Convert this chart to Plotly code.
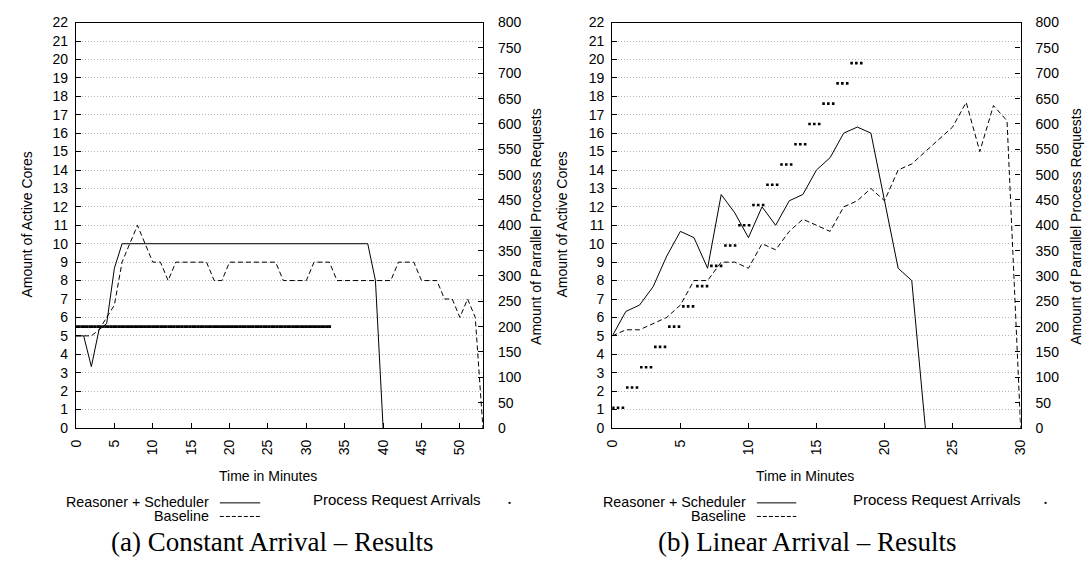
import plotly.graph_objects as go

W, H = 1092, 576

# ---------------- (a) Constant Arrival ----------------
a_time = list(range(0, 54))
a_sched_time = list(range(0, 41))
a_sched = [5, 5, 3.33, 5.33, 5.67, 8.67, 10, 10, 10, 10,
           10, 10, 10, 10, 10, 10, 10, 10, 10, 10,
           10, 10, 10, 10, 10, 10, 10, 10, 10, 10,
           10, 10, 10, 10, 10, 10, 10, 10, 10, 8, 0]
a_base = [5, 5, 5, 5.33, 6, 6.67, 9, 10, 11, 10,
          9, 9, 8, 9, 9, 9, 9, 9, 8, 8,
          9, 9, 9, 9, 9, 9, 9, 8, 8, 8,
          8, 9, 9, 9, 8, 8, 8, 8, 8, 8,
          8, 8, 9, 9, 9, 8, 8, 8, 7, 7,
          6, 7, 6, 0]
a_arr_t = [0.07, 0.42, 0.78, 1.10, 1.45, 1.81, 2.13, 2.48, 2.84, 3.16, 3.51, 3.87,
           4.19, 4.54, 4.90, 5.22, 5.57, 5.93, 6.25, 6.60, 6.96, 7.28, 7.63, 7.99,
           8.31, 8.66, 9.02, 9.34, 9.69, 10.05, 10.37, 10.72, 11.08, 11.40, 11.75, 12.11,
           12.43, 12.78, 13.14, 13.46, 13.81, 14.17, 14.49, 14.84, 15.20, 15.52, 15.87, 16.23,
           16.55, 16.90, 17.26, 17.58, 17.93, 18.29, 18.61, 18.96, 19.32, 19.64, 19.99, 20.35,
           20.67, 21.02, 21.38, 21.70, 22.05, 22.41, 22.73, 23.08, 23.44, 23.76, 24.11, 24.47,
           24.79, 25.14, 25.50, 25.82, 26.17, 26.53, 26.85, 27.20, 27.56, 27.88, 28.23, 28.59,
           28.91, 29.26, 29.62, 29.94, 30.29, 30.65, 30.97, 31.32, 31.68, 32.00, 32.35, 32.71,
           33.03]
a_arr_req = [200] * len(a_arr_t)

# ---------------- (b) Linear Arrival ----------------
b_sched_time = list(range(0, 24))
b_sched = [5, 6.33, 6.67, 7.67, 9.33, 10.67, 10.33, 8.67, 12.67, 11.67,
           10.33, 12, 11, 12.33, 12.67, 14, 14.67, 16, 16.33, 16,
           12.33, 8.67, 8, 0]
b_base_time = list(range(0, 31))
b_base = [5, 5.33, 5.33, 5.67, 6, 6.67, 8, 8, 9, 9,
          8.67, 10, 9.67, 10.67, 11.33, 11, 10.67, 12, 12.33, 13,
          12.33, 14, 14.33, 15, 15.67, 16.33, 17.67, 15, 17.5, 16.67,
          0]
b_arr_t = [0.07, 0.42, 0.78, 1.10, 1.45, 1.81, 2.13, 2.48, 2.84, 3.16, 3.51, 3.87,
           4.19, 4.54, 4.90, 5.22, 5.57, 5.93, 6.25, 6.60, 6.96, 7.28, 7.63, 7.99,
           8.31, 8.66, 9.02, 9.34, 9.69, 10.05, 10.37, 10.72, 11.08, 11.40, 11.75, 12.11,
           12.43, 12.78, 13.14, 13.46, 13.81, 14.17, 14.49, 14.84, 15.20, 15.52, 15.87, 16.23,
           16.55, 16.90, 17.26, 17.58, 17.93, 18.29]
b_arr_req = [40, 40, 40, 80, 80, 80, 120, 120, 120, 160, 160, 160,
             200, 200, 200, 240, 240, 240, 280, 280, 280, 320, 320, 320,
             360, 360, 360, 400, 400, 400, 440, 440, 440, 480, 480, 480,
             520, 520, 520, 560, 560, 560, 600, 600, 600, 640, 640, 640,
             680, 680, 680, 720, 720, 720]

core_ticks = list(range(0, 23))
req_ticks = list(range(0, 801, 50))
a_xticks = list(range(0, 51, 5))
b_xticks = list(range(0, 31, 5))

SANS = "Liberation Sans, Arial, Helvetica, sans-serif"
SERIF = "Liberation Serif, Times New Roman, serif"
DASH = "5px,3px"

fig = go.Figure()

# (a)
fig.add_trace(go.Scatter(x=a_sched_time, y=a_sched, mode="lines",
                         line=dict(color="black", width=1), xaxis="x", yaxis="y"))
fig.add_trace(go.Scatter(x=a_time, y=a_base, mode="lines",
                         line=dict(color="black", width=1, dash=DASH), xaxis="x", yaxis="y"))
fig.add_trace(go.Scatter(x=a_arr_t, y=a_arr_req, mode="markers",
                         marker=dict(color="black", size=2.9, symbol="square", line=dict(width=0)),
                         xaxis="x", yaxis="y2"))
# (b)
fig.add_trace(go.Scatter(x=b_sched_time, y=b_sched, mode="lines",
                         line=dict(color="black", width=1), xaxis="x2", yaxis="y3"))
fig.add_trace(go.Scatter(x=b_base_time, y=b_base, mode="lines",
                         line=dict(color="black", width=1, dash=DASH), xaxis="x2", yaxis="y3"))
fig.add_trace(go.Scatter(x=b_arr_t, y=b_arr_req, mode="markers",
                         marker=dict(color="black", size=2.6, symbol="square", line=dict(width=0)),
                         xaxis="x2", yaxis="y4"))


def px(x):
    return x / W


def py(y):
    return 1 - y / H


tickfont = dict(family=SANS, size=14, color="black")
ydom = [py(432), py(15)]

common_axis = dict(showline=True, linecolor="black", linewidth=1.3, ticks="inside",
                   ticklen=5, tickcolor="black", tickwidth=1, tickfont=tickfont,
                   zeroline=False, fixedrange=True)

x_common = dict(common_axis, mirror=True, showgrid=False, tickangle=-90,
                ticklabelstandoff=5)
y_left = dict(common_axis, range=[0, 22], tickvals=core_ticks, showgrid=True,
              gridcolor="#b4b4b4", griddash="1px,2px", gridwidth=1, ticklabelstandoff=4)
y_right = dict(common_axis, range=[0, 800], tickvals=req_ticks, showgrid=False,
               side="right", ticklabelstandoff=11)

fig.update_layout(
    width=W, height=H,
    margin=dict(l=0, r=0, t=0, b=0),
    paper_bgcolor="white", plot_bgcolor="white",
    showlegend=False,
    xaxis=dict(x_common, domain=[px(69), px(482)], range=[0, 53], tickvals=a_xticks, anchor="y"),
    yaxis=dict(y_left, domain=ydom, anchor="x"),
    yaxis2=dict(y_right, overlaying="y", anchor="x"),
    xaxis2=dict(x_common, domain=[px(613.3), px(1027.7)], range=[0, 30], tickvals=b_xticks, anchor="y3"),
    yaxis3=dict(y_left, domain=ydom, anchor="x2"),
    yaxis4=dict(y_right, overlaying="y3", anchor="x2"),
)

annos = []


def text(x, y, s, size=14, angle=0, xanchor="center", family=SANS):
    annos.append(dict(x=px(x), y=py(y), xref="paper", yref="paper", text=s,
                      showarrow=False, textangle=angle, xanchor=xanchor, yanchor="middle",
                      font=dict(family=family, size=size, color="black")))


# axis titles
text(19, 223, "Amount of Active Cores", angle=-90)
text(536, 225, "Amount of Parrallel Process Requests", angle=-90)
text(263.5, 481, "Time in Minutes")
text(562, 223, "Amount of Active Cores", angle=-90)
text(1084, 225, "Amount of Parrallel Process Requests", angle=-90)
text(809, 481, "Time in Minutes")

shapes = []


def legend(xr, sx0, sx1, arr_x, dot_x):
    text(xr, 508, "Reasoner + Scheduler", xanchor="right", size=14.3)
    text(xr, 523, "Baseline", xanchor="right", size=14.3)
    text(arr_x, 506, "Process Request Arrivals", xanchor="left", size=15)
    shapes.append(dict(type="line", xref="paper", yref="paper", x0=px(sx0), x1=px(sx1),
                       y0=py(509), y1=py(509), line=dict(color="black", width=1)))
    shapes.append(dict(type="line", xref="paper", yref="paper", x0=px(sx0), x1=px(sx1),
                       y0=py(523), y1=py(523), line=dict(color="black", width=1, dash="4px,2px")))
    shapes.append(dict(type="rect", xref="paper", yref="paper", x0=px(dot_x - 1), x1=px(dot_x + 1),
                       y0=py(510), y1=py(508), fillcolor="black", line=dict(width=0)))


legend(206, 215, 256, 308, 509)
legend(751, 760, 800, 856, 1053)

# captions
text(268, 549, "(a) Constant Arrival \u2013 Results", size=27, family=SERIF)
text(811, 549, "(b) Linear Arrival \u2013 Results", size=27, family=SERIF)

fig.update_layout(annotations=annos, shapes=shapes)

fig.write_html("out.html")
